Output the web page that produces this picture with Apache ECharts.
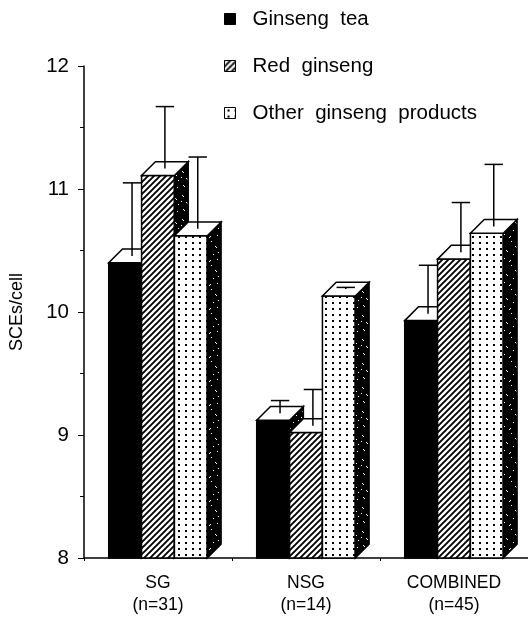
<!DOCTYPE html>
<html>
<head>
<meta charset="utf-8">
<script src="https://cdn.jsdelivr.net/npm/echarts@6/dist/echarts.min.js"></script>
<style>
  html, body { margin: 0; padding: 0; background: #fff; }
  #chart { width: 528px; height: 623px; }
</style>
</head>
<body>
<div id="chart"></div>
<script>
// Sister chromatid exchanges per cell, by group and ginseng product
const categories = ['SG\n(n=31)', 'NSG\n(n=14)', 'COMBINED\n(n=45)'];
const seriesNames = ['Ginseng  tea', 'Red  ginseng', 'Other  ginseng  products'];

const ginsengTea      = [10.40, 9.12, 9.93];
const ginsengTeaUpper = [11.05, 9.28, 10.38];
const redGinseng      = [11.11, 9.02, 10.43];
const redGinsengUpper = [11.67, 9.37, 10.89];
const otherProducts      = [10.62, 10.13, 10.64];
const otherProductsUpper = [11.26, 10.20, 11.20];

const yTicks = [8, 9, 10, 11, 12];

const FONT = 'Liberation Sans';

// --- fill textures ---------------------------------------------------------
function makeTile(w, h, draw) {
  const c = document.createElement('canvas');
  c.width = w; c.height = h;
  draw(c.getContext('2d'), w, h);
  return c;
}
const hatchTile = makeTile(6, 6, (g, w, h) => {
  g.fillStyle = '#fff'; g.fillRect(0, 0, w, h);
  g.strokeStyle = '#000'; g.lineWidth = 1.9;
  g.beginPath();
  g.moveTo(-1, h + 1); g.lineTo(w + 1, -1);
  g.moveTo(-2, 2); g.lineTo(2, -2);
  g.moveTo(w - 2, h + 2); g.lineTo(w + 2, h - 2);
  g.stroke();
});
const dotTile = makeTile(7, 6, (g, w, h) => {
  g.fillStyle = '#fff'; g.fillRect(0, 0, w, h);
  g.fillStyle = '#000'; g.fillRect(3, 2, 2, 2);
});
const sideTile = makeTile(20, 24, (g, w, h) => {
  g.fillStyle = '#000'; g.fillRect(0, 0, w, h);
  g.fillStyle = '#fff';
  [[2,3],[3,4],[11,1],[15,6],[16,7],[6,10],[7,11],[13,14],[3,17],[4,18],[17,19],[9,21],[10,20],[18,12],[1,9]]
    .forEach(p => g.fillRect(p[0], p[1], 1, 1));
});
const pattern = img => ({ image: img, repeat: 'repeat' });

const frontFills = ['#000', pattern(hatchTile), pattern(dotTile)];
const sideFill = pattern(sideTile);

// --- 3D bar with error bar ---------------------------------------------------
const BAR_FRAC = 0.222;   // width of one bar relative to a category band
const DEPTH_FRAC = 0.42;  // oblique depth relative to bar width

function makeRenderItem(sIdx) {
  return function (params, api) {
    const cat = api.value(0);
    const val = api.value(1);
    const upper = api.value(2);
    const base = api.coord([cat, yTicks[0]]);
    const top = api.coord([cat, val]);
    const errTop = api.coord([cat, upper]);
    const band = api.size([1, 0])[0];
    const w = band * BAR_FRAC;
    const d = w * DEPTH_FRAC;
    const x0 = base[0] - 1.5 * w + sIdx * w;
    const yt = top[1], yb = base[1];
    const ex = x0 + w / 2 + d / 2;
    const ey0 = yt - d / 2;
    const cap = w * 0.28;
    const lineStyle = { stroke: '#000', lineWidth: 1.5 };
    return {
      type: 'group',
      children: [
        { type: 'rect', shape: { x: x0, y: yt, width: w, height: yb - yt },
          style: { fill: frontFills[sIdx], stroke: '#000', lineWidth: 1.5 } },
        { type: 'polygon', shape: { points: [[x0 + w, yt], [x0 + w + d, yt - d], [x0 + w + d, yb - d], [x0 + w, yb]] },
          style: { fill: sideFill, stroke: '#000', lineWidth: 1.5 } },
        { type: 'polygon', shape: { points: [[x0, yt], [x0 + w, yt], [x0 + w + d, yt - d], [x0 + d, yt - d]] },
          style: { fill: '#fff', stroke: '#000', lineWidth: 1.5 } },
        { type: 'line', shape: { x1: ex, y1: ey0, x2: ex, y2: errTop[1] }, style: lineStyle },
        { type: 'line', shape: { x1: ex - cap, y1: errTop[1], x2: ex + cap, y2: errTop[1] }, style: lineStyle }
      ]
    };
  };
}

const valueSets = [ginsengTea, redGinseng, otherProducts];
const upperSets = [ginsengTeaUpper, redGinsengUpper, otherProductsUpper];

const series = seriesNames.map((name, s) => ({
  name: name,
  type: 'custom',
  renderItem: makeRenderItem(s),
  encode: { x: 0, y: 1 },
  itemStyle: { color: frontFills[s], borderColor: '#000', borderWidth: 1 },
  data: categories.map((c, i) => [i, valueSets[s][i], upperSets[s][i]]),
  z: 2 + s
}));

const chart = echarts.init(document.getElementById('chart'), null, { renderer: 'canvas' });
chart.setOption({
  backgroundColor: '#fff',
  animation: false,
  legend: {
    orient: 'vertical',
    left: 224,
    top: 8,
    padding: 0,
    icon: 'rect',
    itemWidth: 11,
    itemHeight: 11,
    itemGap: 25,
    selectedMode: false,
    textStyle: { fontFamily: FONT, fontSize: 20.5, color: '#000', lineHeight: 22, padding: [0, 0, 0, 12] },
    data: seriesNames.map((n, s) => ({ name: n, itemStyle: { color: frontFills[s], borderColor: '#000', borderWidth: 1 } }))
  },
  grid: { left: 82, right: 0, top: 66, bottom: 65, containLabel: false },
  xAxis: {
    type: 'category',
    data: categories,
    axisLine: { lineStyle: { color: '#000', width: 1.5 } },
    axisTick: { show: true, length: 3, lineStyle: { color: '#000' } },
    axisLabel: { fontFamily: FONT, fontSize: 17.5, color: '#000', lineHeight: 22, margin: 14 },
    splitLine: { show: false }
  },
  yAxis: {
    type: 'value',
    min: yTicks[0],
    max: yTicks[yTicks.length - 1],
    interval: 1,
    name: 'SCEs/cell',
    nameLocation: 'middle',
    nameGap: 58,
    nameTextStyle: { fontFamily: FONT, fontSize: 18, color: '#000' },
    axisLine: { show: true, lineStyle: { color: '#000', width: 1.5 } },
    axisTick: { show: true, length: 6, lineStyle: { color: '#000' } },
    minorTick: { show: true, splitNumber: 2, length: 4, lineStyle: { color: '#000' } },
    axisLabel: { fontFamily: FONT, fontSize: 20.5, color: '#000', margin: 15 },
    splitLine: { show: false }
  },
  series: series
});
</script>
</body>
</html>
